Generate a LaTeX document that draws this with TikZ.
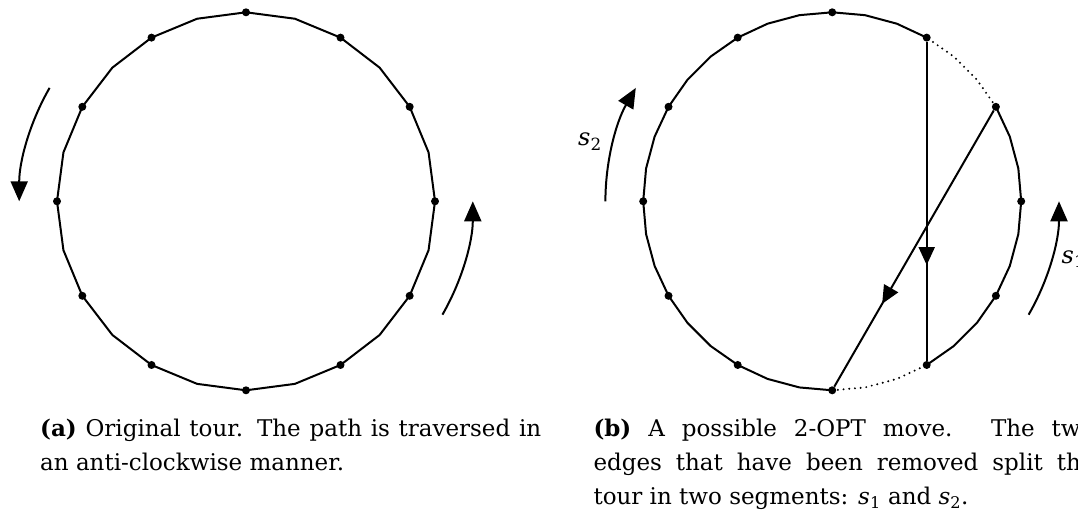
\documentclass[tikz,border=0pt]{standalone}
\usepackage{fix-cm}
\usepackage{fontspec}
\setmainfont{DejaVu Serif}
\usetikzlibrary{arrows.meta,decorations.markings}
\newcommand{\segname}[1]{\textit{s}\textsubscript{#1}}
\begin{document}
\begin{tikzpicture}[x=1pt,y=1pt,
  edge/.style={line width=2pt, line join=round},
  dotline/.style={line width=2.2pt, line cap=round, dash pattern=on 0pt off 5.7pt},
  vdot/.style={circle, fill, inner sep=0pt, minimum size=8pt},
  tip/.style={-{Triangle[length=20pt,width=17pt]}},
  midarrow/.style={postaction={decorate}, decoration={markings, mark=at position #1 with {\arrow{Triangle[length=18pt,width=16pt]}}}},
  capt/.style={anchor=base west, inner sep=0pt, text width=501pt, align=justify, font=\fontsize{23}{34.2}\selectfont},
  lbl/.style={anchor=base west, inner sep=0pt, font=\fontsize{24}{30}\selectfont}
]
\useasboundingbox (0,0) rectangle (1078,515);
% ---------- (a) ----------
\foreach \i in {0,...,23}
  \coordinate (a-\i) at ({246+189*cos(15*\i)},{313.7+189*sin(15*\i)});
\draw[edge] (a-0) \foreach \i in {1,...,23}{-- (a-\i)} -- cycle;
\foreach \i in {0,2,...,22}
  \node[vdot] (ad-\i) at (a-\i) {};
\coordinate (aL) at ({246+226.8*cos(150)},{313.7+226.8*sin(150)});
\coordinate (aR) at ({246+226.8*cos(-30)},{313.7+226.8*sin(-30)});
\draw[edge,tip] (aL) arc[start angle=150, end angle=180, radius=226.8];
\draw[edge,tip] (aR) arc[start angle=-30, end angle=0, radius=226.8];
\node[capt] (capa) at (40,78.5) {\textbf{(a)} Original tour. The path is traversed in\linebreak an anti-clockwise manner.};
% ---------- (b) ----------
\foreach \i in {0,...,35}
  \coordinate (b-\i) at ({832.2+189*cos(10*\i)},{313.7+189*sin(10*\i)});
\draw[edge] (b-6) \foreach \i in {7,...,27}{-- (b-\i)};
\draw[dotline] (b-27) -- (b-28) -- (b-29) -- (b-30);
\draw[edge] (b-30) -- (b-31) -- (b-32) -- (b-33) -- (b-34) -- (b-35) -- (b-0) -- (b-1) -- (b-2) -- (b-3);
\draw[dotline] (b-3) -- (b-4) -- (b-5) -- (b-6);
\foreach \i in {0,3,...,33}
  \node[vdot] (bd-\i) at (b-\i) {};
\draw[edge, midarrow=0.7] (bd-6) -- (bd-30);
\draw[edge, midarrow=0.7] (bd-3) -- (bd-27);
\coordinate (bL) at ({832.2+226.8*cos(180)},{313.7+226.8*sin(180)});
\coordinate (bR) at ({832.2+226.8*cos(-30)},{313.7+226.8*sin(-30)});
\draw[edge,tip] (bL) arc[start angle=180, end angle=150, radius=226.8];
\draw[edge,tip] (bR) arc[start angle=-30, end angle=0, radius=226.8];
\node[lbl] (s2) at (578,369) {\segname{2}};
\node[lbl] (s1) at (1061.5,252) {\segname{1}};
\node[capt] (capb) at (593.3,78.5) {\textbf{(b)} A possible 2-OPT move. The two\linebreak edges that have been removed split the\linebreak tour in two segments: \segname{1} and \segname{2}.};
\end{tikzpicture}
\end{document}
